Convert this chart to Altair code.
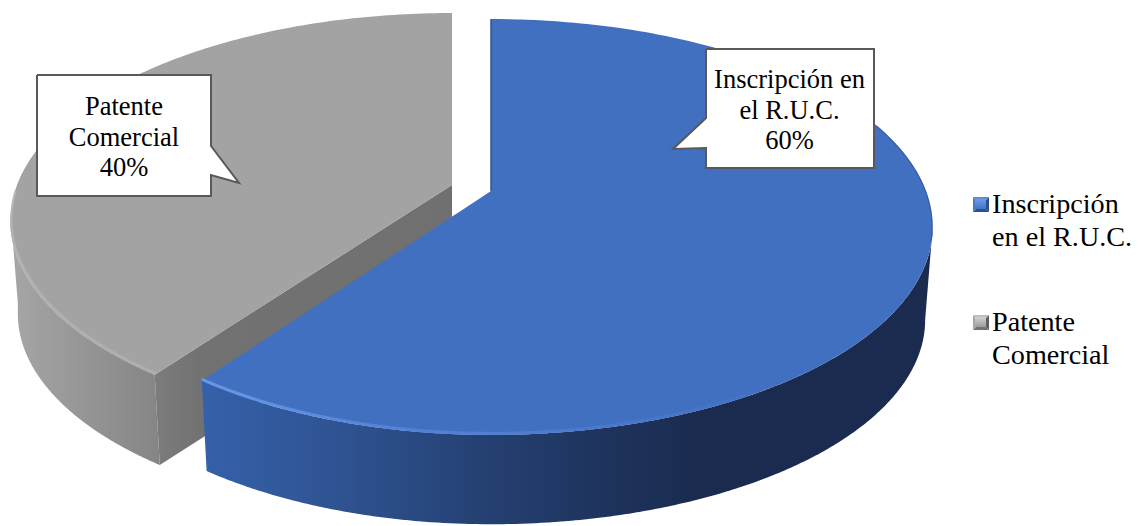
import numpy as np
import pandas as pd
import altair as alt

# ---- chart values
categories = ["Inscripción en el R.U.C.", "Patente Comercial"]
shares = [60, 40]
callout_lines = [["Inscripción en", "el R.U.C."], ["Patente", "Comercial"]]
legend_lines = [["Inscripción", "en el R.U.C."], ["Patente", "Comercial"]]

# ---- view of the tilted pie (perspective of a unit disc)
APEX = (491.0, 191.0)
EXPLODE = (-39.0, -6.0)
HALF_W, HALF_H, TILT = 435.0, 201.7, 0.173
DEPTH, SHRINK = 93.5, 0.983
BLUE_LEFT = 0.973
FONT = "Liberation Serif"
FS = 26.5
FS_LEGEND = 28.2


def rim(a0, a1, shift=(0.0, 0.0), wall=False, n=160, left=1.0):
    t = np.radians(np.linspace(a0, a1, n))
    w = 1 + TILT * np.cos(t)
    dx = HALF_W * np.sin(t) / w
    dx = np.where(dx < 0, dx * left, dx)
    dy = -HALF_H * np.cos(t) / w
    s = SHRINK if wall else 1.0
    d = DEPTH if wall else 0.0
    return list(zip(APEX[0] + shift[0] + s * dx, APEX[1] + shift[1] + d + s * dy))


def span(points):
    """Turn a closed outline into x / y / y2 rows for an area mark."""
    p = np.array(points, dtype=float)
    q = np.roll(p, -1, axis=0)
    lo, hi = p[:, 0].min(), p[:, 0].max()
    eps = 1e-3
    xs = np.unique(np.clip(np.concatenate([p[:, 0] - eps, p[:, 0] + eps]), lo + eps, hi - eps))
    rows = []
    for x in xs:
        ys = []
        for (x0, y0), (x1, y1) in zip(p, q):
            if (x0 <= x < x1) or (x1 <= x < x0):
                ys.append(y0 + (x - x0) / (x1 - x0) * (y1 - y0))
        if ys:
            rows.append({"x": float(x), "y": min(ys), "y2": max(ys)})
    return pd.DataFrame(rows)


X = alt.X("x:Q", scale=alt.Scale(domain=[8, 1134], nice=False, zero=False), axis=None)
Y = alt.Y("y:Q", scale=alt.Scale(domain=[526, 8], nice=False, zero=False), axis=None)


def grad(stops, vertical=False):
    n = [alt.GradientStop(color=c, offset=o) for o, c in stops]
    return alt.LinearGradient(gradient="linear", stops=n, x1=0, x2=0 if vertical else 1, y1=0, y2=1 if vertical else 0)


def area(points, fill):
    return alt.Chart(span(points)).mark_area(fill=fill, interpolate="linear").encode(
        x=X, y=Y, y2="y2:Q"
    )


def line(points, stroke, width, opacity=1.0):
    df = pd.DataFrame(points, columns=["x", "y"]).assign(i=lambda d: range(len(d)))
    return alt.Chart(df).mark_line(stroke=stroke, strokeWidth=width, opacity=opacity, interpolate="linear").encode(
        x=X, y=Y, order="i:Q"
    )


cut = 360.0 * shares[0] / sum(shares)
gap = (EXPLODE[0], EXPLODE[1])
apex_b = APEX
apex_g = (APEX[0] + gap[0], APEX[1] + gap[1])
layers = []

# grey slice
g_top = rim(cut, 360, gap)
g_tip, g_tip_low = rim(cut, cut, gap, n=1)[0], rim(cut, cut, gap, True, n=1)[0]
layers.append(area(rim(cut, 262, gap) + rim(262, cut, gap, True),
                   grad([(0, "#A6A6A6"), (0.3, "#9C9C9C"), (1, "#858585")])))
layers.append(area([g_tip, apex_g, (apex_g[0], apex_g[1] + DEPTH), g_tip_low],
                   grad([(0, "#7C7C7C"), (0.15, "#727272"), (1, "#707070")])))
layers.append(area(g_top + [apex_g], "#A3A3A3"))
layers.append(line(rim(cut, 268, (gap[0] + 1, gap[1] - 1.5)), grad([(0, "#BDBDBD"), (1, "#B4B4B4")]), 2.5, 0.6))

# blue slice
b_top = rim(0, cut, left=BLUE_LEFT)
layers.append(area(rim(100, cut, left=BLUE_LEFT) + rim(cut, 100, wall=True, left=BLUE_LEFT),
                   grad([(0, "#3561AA"), (0.2, "#2E5290"), (0.4, "#243F70"), (0.56, "#1E335C"), (0.68, "#1A2B4F"), (1, "#1A2B4F")])))
layers.append(area(b_top + [apex_b], "#4270C0"))
layers.append(line(rim(cut, 150, (0, -1.5), left=BLUE_LEFT),
                   grad([(0, "#6C9CEC"), (0.35, "#5585DA"), (1, "#4472C4")]), 3, 0.9))
layers.append(line([apex_b, rim(0, 0, n=1)[0]], "#2F5597", 1.5))
layers.append(line(rim(70, 104, (-0.5, 0)), "#223C70", 1.2, 0.45))

# callouts
call_blue = [(706, 49), (874, 49), (874, 168), (706, 168), (706, 148), (673, 149), (706, 118)]
call_grey = [(37, 75), (211, 75), (211, 146), (239, 183), (211, 175), (211, 196), (37, 196)]
for poly in (call_blue, call_grey):
    layers.append(area(poly, "#FFFFFF"))
    layers.append(line(poly + [poly[0]], "#595959", 2))

text_rows = []
for (cx, base), lines, share in zip([(789.5, 88), (124, 115)], callout_lines, shares):
    for k, t in enumerate(lines + [f"{share}%"]):
        text_rows.append({"x": cx, "y": base + k * 30.5, "t": t})
layers.append(alt.Chart(pd.DataFrame(text_rows)).mark_text(
    font=FONT, fontSize=FS, color="#000000", align="center", baseline="alphabetic"
).encode(x=X, y=Y, text="t:N"))

# legend
legend_swatches = [((973, 197), ["#5F8BDC", "#4A78CC", "#2C4F8E", "#2D4F8E"], ["#6F9BE8", "#4472C4"]),
                   ((973, 315), ["#BDBDBD", "#A8A8A8", "#5F5F5F", "#747474"], ["#D2D2D2", "#9C9C9C"])]
SW, SH = 16, 15
for (x0, y0), (ct, cl, cr, cb), inner in legend_swatches:
    c = (x0 + SW / 2, y0 + SH / 2)
    a, b, d, e = (x0, y0), (x0 + SW, y0), (x0 + SW, y0 + SH), (x0, y0 + SH)
    layers.append(area([e, a, c], cl))
    layers.append(area([b, d, c], cr))
    layers.append(area([a, b, c], ct))
    layers.append(area([e, d, c], cb))
    layers.append(area([(x0 + 2, y0 + 2), (x0 + SW - 3, y0 + 2), (x0 + SW - 3, y0 + SH - 3), (x0 + 2, y0 + SH - 3)],
                       grad([(0, inner[0]), (1, inner[1])], vertical=True)))

leg_rows = []
for base, lines in zip([213, 331], legend_lines):
    for k, t in enumerate(lines):
        leg_rows.append({"x": 992, "y": base + k * 33, "t": t})
layers.append(alt.Chart(pd.DataFrame(leg_rows)).mark_text(
    font=FONT, fontSize=FS_LEGEND, color="#000000", align="left", baseline="alphabetic"
).encode(x=X, y=Y, text="t:N"))

chart = alt.layer(*layers).properties(
    width=1126, height=518, padding=0, background="#FFFFFF",
    autosize=alt.AutoSizeParams(type="none")
).configure_view(stroke=None)

chart.save("out.html", embed_options={"renderer": "svg", "actions": False})
